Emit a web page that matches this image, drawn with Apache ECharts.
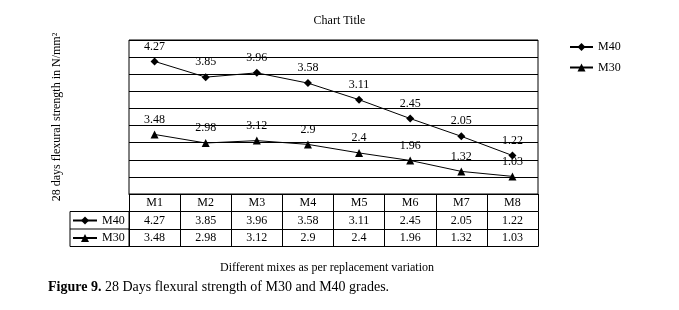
<!DOCTYPE html>
<html>
<head>
<meta charset="utf-8">
<script src="https://cdn.jsdelivr.net/npm/echarts@6/dist/echarts.min.js"></script>
<style>
  html, body { margin: 0; padding: 0; background: #fff; }
  #main { width: 679px; height: 310px; }
</style>
</head>
<body>
<div id="main"></div>
<script>
// data
var mixes = ['M1', 'M2', 'M3', 'M4', 'M5', 'M6', 'M7', 'M8'];
var m40 = [4.27, 3.85, 3.96, 3.58, 3.11, 2.45, 2.05, 1.22];
var m30 = [3.48, 2.98, 3.12, 2.9, 2.4, 1.96, 1.32, 1.03];

var font = 'Liberation Serif, Times New Roman, serif';
var gridLeft = 129, gridTop = 40, gridRight = 141, gridBottom = 116;
var rowH = 17.5;
var chartH = 310;
var plotBottom = chartH - gridBottom;

var myChart = echarts.init(document.getElementById('main'));

function tableAxis(idx, formatter, showLabel) {
    return {
        type: 'category',
        data: mixes,
        position: 'bottom',
        offset: idx * rowH,
        boundaryGap: true,
        axisLine: { show: true, lineStyle: { color: '#000', width: 1 } },
        axisTick: { show: showLabel, length: rowH, lineStyle: { color: '#000', width: 1 } },
        axisLabel: {
            show: showLabel,
            margin: 3,
            color: '#000',
            fontFamily: font,
            fontSize: 12,
            formatter: formatter
        },
        splitLine: { show: false }
    };
}

var legendText = { fontFamily: font, fontSize: 12, color: '#000' };

var option = {
    animation: false,
    backgroundColor: '#fff',
    title: [
        {
            text: 'Chart Title',
            left: 'center',
            top: 10,
            textStyle: { fontFamily: font, fontSize: 12, fontWeight: 'normal', color: '#000' }
        },
        {
            text: 'Different mixes as per replacement variation',
            left: 220,
            top: 262,
            padding: 0,
            textStyle: { fontFamily: font, fontSize: 12, fontWeight: 'normal', color: '#000' }
        },
        {
            text: '{b|Figure 9.} 28 Days flexural strength of M30 and M40 grades.',
            left: 48,
            top: 280,
            padding: 0,
            textStyle: {
                fontFamily: font, fontSize: 14, fontWeight: 'normal', color: '#000',
                rich: { b: { fontFamily: font, fontSize: 14, fontWeight: 'bold', color: '#000' } }
            }
        }
    ],
    legend: [
        {
            data: ['M40', 'M30'],
            orient: 'vertical',
            left: 569,
            top: 41,
            padding: 0,
            itemWidth: 23,
            itemHeight: 10,
            itemGap: 8.5,
            selectedMode: false,
            textStyle: legendText
        },
        {
            // 表格左侧的图例
            data: ['M40', 'M30'],
            orient: 'vertical',
            left: 72,
            top: plotBottom + rowH + 3,
            padding: 0,
            itemWidth: 24,
            itemHeight: 10,
            itemGap: 5.5,
            selectedMode: false,
            textStyle: legendText
        }
    ],
    grid: {
        left: gridLeft,
        right: gridRight,
        top: gridTop,
        bottom: gridBottom,
        show: true,
        borderColor: '#000',
        borderWidth: 1
    },
    xAxis: [
        tableAxis(0, function (v) { return v; }, true),
        tableAxis(1, function (v, i) { return String(m40[i]); }, true),
        tableAxis(2, function (v, i) { return String(m30[i]); }, true),
        tableAxis(3, null, false)
    ],
    yAxis: {
        type: 'value',
        min: 0,
        max: 9,
        interval: 1,
        name: '28 days flexural strength in N/mm²',
        nameLocation: 'middle',
        nameGap: 66,
        nameTextStyle: { fontFamily: font, fontSize: 12, color: '#000' },
        axisLine: { show: false },
        axisTick: { show: false },
        axisLabel: { show: false },
        splitLine: { show: true, lineStyle: { color: '#000', width: 1 } }
    },
    series: [
        {
            name: 'M30',
            type: 'line',
            stack: 'total',
            data: m30,
            symbol: 'triangle',
            symbolSize: 8,
            color: '#000',
            lineStyle: { color: '#000', width: 1 },
            itemStyle: { color: '#000' },
            label: { show: true, position: 'top', distance: 5, color: '#000', fontFamily: font, fontSize: 12 }
        },
        {
            name: 'M40',
            type: 'line',
            stack: 'total',
            data: m40,
            symbol: 'diamond',
            symbolSize: 8,
            color: '#000',
            lineStyle: { color: '#000', width: 1 },
            itemStyle: { color: '#000' },
            label: { show: true, position: 'top', distance: 5, color: '#000', fontFamily: font, fontSize: 12 }
        }
    ],
    graphic: [
        {
            type: 'rect',
            shape: { x: gridLeft - 59, y: plotBottom + rowH, width: 59, height: rowH * 2 },
            style: { fill: 'none', stroke: '#000', lineWidth: 1 }
        },
        {
            type: 'line',
            shape: { x1: gridLeft - 59, y1: plotBottom + rowH * 2, x2: gridLeft, y2: plotBottom + rowH * 2 },
            style: { stroke: '#000', lineWidth: 1 }
        }
    ]
};

myChart.setOption(option);
</script>
</body>
</html>
